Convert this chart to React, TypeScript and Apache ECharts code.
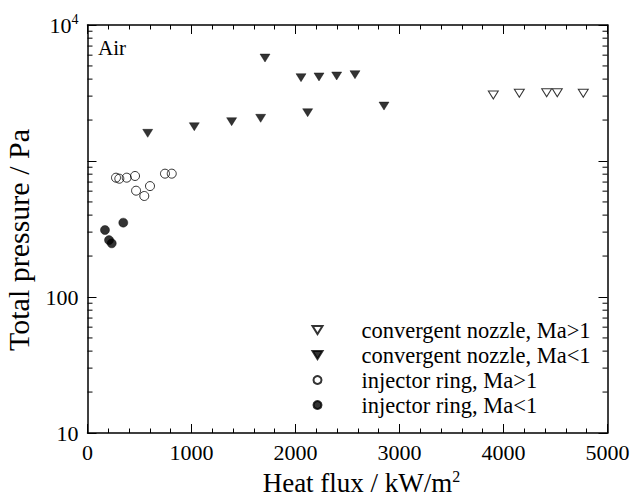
import React, { useEffect, useRef } from "react";
import * as echarts from "echarts";

// Heat flux (kW/m2) and total pressure (Pa)
const convSuperX = [3902, 4152, 4415, 4517, 4767];
const convSuperY = [3056, 3146, 3178, 3178, 3146];

const convSubX = [579, 1027, 1386, 1665, 1707, 2053, 2226, 2396, 2572, 2117, 2851];
const convSubY = [1598, 1786, 1946, 2060, 5715, 4098, 4150, 4217, 4311, 2265, 2535];

const ringSuperX = [274, 306, 377, 457, 467, 546, 601, 745, 810];
const ringSuperY = [754, 741, 754, 776, 605, 553, 654, 807, 807];

const ringSubX = [168, 207, 233, 344];
const ringSubY = [311, 262, 248, 352];

const seriesNames = [
  "convergent nozzle, Ma>1",
  "convergent nozzle, Ma<1",
  "injector ring, Ma>1",
  "injector ring, Ma<1",
];

const xTicks = [0, 1000, 2000, 3000, 4000, 5000];
const yMajorLabels: Record<number, string> = { 10: "10", 100: "100", 1000: "", 10000: "10{sup|4}" };
const yMinorTicks = [20, 30, 40, 50, 60, 70, 80, 90, 200, 300, 400, 500, 600, 700, 800, 900, 2000, 3000, 4000, 5000, 6000, 7000, 8000, 9000];

const FONT = '"Liberation Serif", "Times New Roman", serif';
const DOWN_TRI = "path://M0,0 L10,0 L5,8 Z";

const zip = (xs: number[], ys: number[]) => xs.map((x, i) => [x, ys[i]]);

export default function App() {
  const ref = useRef<HTMLDivElement>(null);
  useEffect(() => {
    if (!ref.current) return;
    const chart = echarts.init(ref.current, undefined, { renderer: "svg" });
    const axisLine = { show: true, onZero: false, lineStyle: { color: "#000", width: 1.5 } };
    const majorTick = { show: true, inside: true, length: 9, lineStyle: { color: "#000", width: 1 } };
    const xMinor = { show: true, splitNumber: 5, length: 4.5, lineStyle: { color: "#000", width: 1 } };
    const supRich = {
      sup: { fontSize: 16, fontFamily: FONT, color: "#000", verticalAlign: "bottom", padding: [0, 0, 13, 0] },
    };
    chart.setOption({
      animation: false,
      backgroundColor: "#fff",
      grid: { left: 87.5, right: 26.5, top: 25, bottom: 64, containLabel: false, outerBoundsMode: "none" },
      xAxis: [
        {
          type: "value",
          min: xTicks[0],
          max: xTicks[xTicks.length - 1],
          interval: 1000,
          axisLine,
          axisTick: majorTick,
          minorTick: xMinor,
          splitLine: { show: false },
          axisLabel: { fontFamily: FONT, fontSize: 22, color: "#000", margin: 8, formatter: (v: number) => String(v) },
          name: "Heat flux / kW/m{sup|2}",
          nameLocation: "middle",
          nameGap: 35,
          nameTextStyle: { fontFamily: FONT, fontSize: 27, color: "#000", rich: supRich, padding: [0, 0, 0, 28] },
        },
        {
          type: "value",
          position: "top",
          min: xTicks[0],
          max: xTicks[xTicks.length - 1],
          interval: 1000,
          axisLine,
          axisTick: majorTick,
          minorTick: xMinor,
          splitLine: { show: false },
          axisLabel: { show: false },
        },
      ],
      yAxis: [
        {
          type: "log",
          logBase: 10,
          min: 10,
          max: 10000,
          axisLine,
          axisTick: majorTick,
          splitLine: { show: false },
          axisLabel: {
            fontFamily: FONT,
            fontSize: 22,
            color: "#000",
            margin: 9,
            formatter: (v: number) => yMajorLabels[Math.round(v)] ?? "",
            rich: { sup: { fontSize: 14, fontFamily: FONT, color: "#000", verticalAlign: "bottom", padding: [0, 0, 11, 0] } },
          },
          name: "Total pressure / Pa",
          nameLocation: "middle",
          nameGap: 54,
          nameTextStyle: { fontFamily: FONT, fontSize: 30, color: "#000", padding: [0, 22, 0, 0] },
        },
        {
          type: "log",
          logBase: 10,
          min: 10,
          max: 10000,
          position: "right",
          axisLine,
          axisTick: majorTick,
          splitLine: { show: false },
          axisLabel: { show: false },
        },
      ],
      legend: {
        orient: "vertical",
        left: 305,
        top: 313.5,
        itemWidth: 10,
        itemHeight: 8,
        itemGap: 2.0,
        data: seriesNames,
        textStyle: { fontFamily: FONT, fontSize: 22.5, color: "#000", lineHeight: 22.5, padding: [0, 0, 0, 34] },
        selectedMode: false,
      },
      graphic: [
        {
          type: "text",
          left: 98,
          top: 37,
          style: { text: "Air", font: `21px ${FONT}`, fill: "#000" },
        },
      ],
      series: [
        {
          name: seriesNames[0],
          type: "scatter",
          symbol: DOWN_TRI,
          symbolSize: [10, 8],
          itemStyle: { color: "none", borderColor: "#000", borderWidth: 1 },
          data: zip(convSuperX, convSuperY),
          z: 3,
        },
        {
          name: seriesNames[1],
          type: "scatter",
          symbol: DOWN_TRI,
          symbolSize: [10, 8],
          itemStyle: { color: "#000", borderColor: "#000", borderWidth: 0.5 },
          data: zip(convSubX, convSubY),
          z: 3,
        },
        {
          name: seriesNames[2],
          type: "scatter",
          symbol: "circle",
          symbolSize: 9,
          itemStyle: { color: "none", borderColor: "#000", borderWidth: 1 },
          data: zip(ringSuperX, ringSuperY),
          z: 3,
        },
        {
          name: seriesNames[3],
          type: "scatter",
          symbol: "circle",
          symbolSize: 9,
          itemStyle: { color: "#000", borderColor: "#000", borderWidth: 0.5 },
          data: zip(ringSubX, ringSubY),
          z: 3,
        },
        {
          type: "custom",
          silent: true,
          clip: false,
          data: yMinorTicks.map((v) => [xTicks[0], v]),
          renderItem: (params: any, api: any) => {
            const v = api.value(1);
            const pL = api.coord([xTicks[0], v]);
            const pR = api.coord([xTicks[xTicks.length - 1], v]);
            const style = { stroke: "#000", lineWidth: 1 };
            return {
              type: "group",
              children: [
                { type: "line", shape: { x1: pL[0], y1: pL[1], x2: pL[0] + 5, y2: pL[1] }, style },
                { type: "line", shape: { x1: pR[0], y1: pR[1], x2: pR[0] - 5, y2: pR[1] }, style },
              ],
            };
          },
          z: 2,
        },
      ],
    });
    return () => chart.dispose();
  }, []);
  return <div ref={ref} style={{ position: "fixed", left: 0, top: 0, width: 634, height: 497 }} />;
}
